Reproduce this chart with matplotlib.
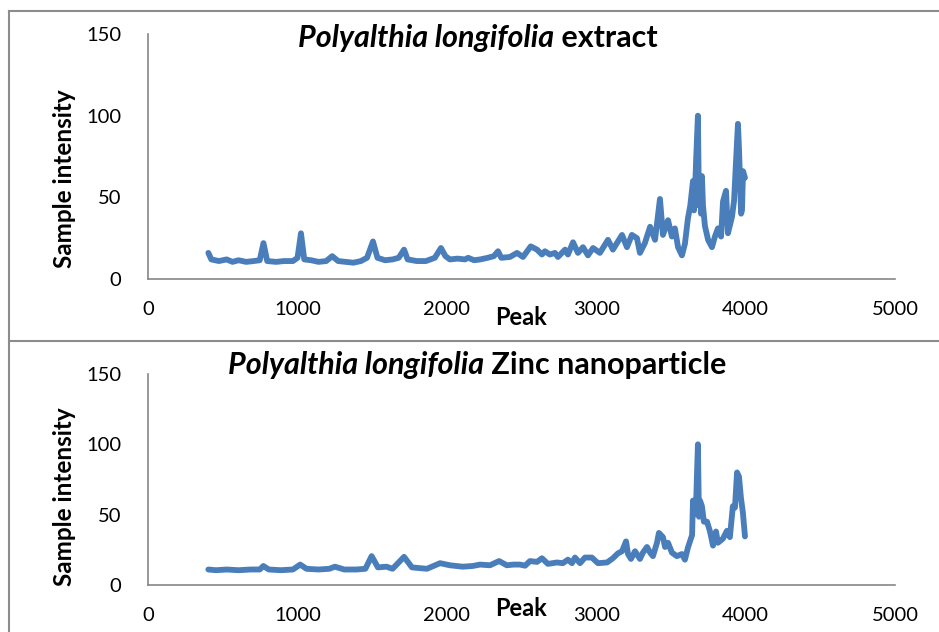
#!/usr/bin/env python3

import matplotlib
matplotlib.use('Agg')
import matplotlib.pyplot as plt
from matplotlib.lines import Line2D

plt.rcParams['font.family'] = ['Lato', 'DejaVu Sans']

# Peak positions and intensities
extract_x = [404, 424, 475, 526, 566, 606, 657, 707, 748, 773, 798, 859, 910, 970, 1001,
             1024, 1046, 1092, 1142, 1193, 1233, 1273, 1324, 1375, 1425, 1466, 1506, 1536,
             1587, 1637, 1678, 1714, 1738, 1799, 1860, 1920, 1961, 1991, 2021, 2072, 2122,
             2143, 2183, 2224, 2274, 2315, 2343, 2365, 2423, 2470, 2510, 2562, 2604, 2637,
             2657, 2690, 2724, 2744, 2792, 2811, 2845, 2878, 2912, 2945, 2979, 3025, 3079,
             3112, 3139, 3173, 3206, 3239, 3273, 3293, 3326, 3361, 3394, 3427, 3447, 3481,
             3507, 3527, 3548, 3574, 3594, 3614, 3630, 3648, 3655, 3662, 3670, 3681, 3688,
             3695, 3702, 3708, 3715, 3728, 3749, 3775, 3795, 3815, 3836, 3849, 3869, 3882,
             3909, 3923, 3935, 3949, 3956, 3963, 3970, 3976, 3983, 3996]
extract_y = [16, 12, 11, 12, 10.5, 11.5, 10.5, 11, 11.5, 22, 11, 10.5, 11, 11, 13,
             28, 12, 11.5, 10.5, 11, 14, 11, 10.5, 10, 11, 13, 23, 13,
             11.5, 12, 13, 18, 12, 11, 11, 13, 19, 14, 12, 12.5, 12,
             13, 11.5, 12, 13, 14, 17, 13, 13.5, 16, 13.5, 20, 18, 15,
             17, 15, 16, 13.5, 18, 15, 22.5, 16, 19.5, 14.5, 19, 16, 24,
             18, 22, 27, 19.5, 27, 25, 16, 22, 32, 24, 49, 27, 36,
             26, 31, 19.5, 14.5, 21.5, 37, 45, 60, 42, 55, 75, 100, 45,
             60, 40, 63, 45, 32.5, 24, 19.5, 26, 31, 26, 47.5, 54, 28,
             38, 48, 70, 95, 80, 60, 40, 42, 66, 62]

zinc_x = [404, 455, 526, 606, 687, 748, 772, 809, 889, 970, 1019, 1061, 1142, 1213,
          1251, 1314, 1395, 1455, 1497, 1539, 1597, 1637, 1714, 1767, 1867, 1955, 2021,
          2108, 2173, 2223, 2289, 2350, 2402, 2446, 2490, 2524, 2557, 2604, 2637, 2677,
          2738, 2777, 2811, 2838, 2858, 2892, 2925, 2971, 3012, 3073, 3112, 3146, 3173,
          3200, 3213, 3233, 3260, 3293, 3313, 3340, 3361, 3380, 3407, 3420, 3447, 3461,
          3481, 3507, 3540, 3574, 3594, 3614, 3642, 3648, 3655, 3668, 3681, 3688, 3695,
          3708, 3721, 3742, 3762, 3782, 3802, 3815, 3849, 3875, 3895, 3915, 3929, 3943,
          3956, 3969, 3982, 3996]
zinc_y = [11, 10.5, 11, 10.5, 11, 11, 13.5, 11, 10.5, 11, 14.5, 11.5, 11, 11.5,
          13, 11, 11, 11.5, 20.5, 12.5, 13, 11.5, 20, 12.5, 11.5, 15.5, 14,
          13, 13.5, 14.5, 14, 17, 14, 14.5, 14.5, 13.7, 17, 16.4, 19, 15,
          16, 15.5, 18, 15.5, 19.5, 15.5, 19.5, 19.5, 15.5, 16, 19, 22.5, 24,
          31, 22, 18.5, 24, 18.5, 23, 27, 23, 20.5, 30, 37, 34, 27,
          30, 23, 20.5, 22, 18, 26.5, 35.5, 60, 50, 55, 100, 48.5, 60,
          56, 45, 45, 38, 28, 38, 30, 33, 38.5, 34, 56, 55, 80,
          77, 62, 51.5, 34.5]

x_ticks = [0, 1000, 2000, 3000, 4000, 5000]
y_ticks = [0, 50, 100, 150]

titles = [('Polyalthia longifolia', ' extract'),
          ('Polyalthia longifolia', ' Zinc nanoparticle')]

line_color = '#4a7ebb'
axis_color = '#868686'

fig = plt.figure(figsize=(9.39, 6.32), dpi=100)

# axes rectangles in figure fractions (left, bottom, width, height)
rects = [(0.1576, 0.5585, 0.7955, 0.3877), (0.1576, 0.0744, 0.7955, 0.3339)]
series = [(extract_x, extract_y), (zinc_x, zinc_y)]
title_y = [0.940, 0.423]
title_x = [0.3174, 0.2428]
ylabel_y = [0.41, 0.42]
xlabel_y = [-0.11, -0.057]

for rect, (xs, ys), (it_txt, rest_txt), ty, tx, ly, lx in zip(
        rects, series, titles, title_y, title_x, ylabel_y, xlabel_y):
    ax = fig.add_axes(rect)
    ax.plot(xs, ys, color=line_color, lw=4.2, solid_joinstyle='round',
            solid_capstyle='round')
    ax.set_xlim(0, 5000)
    ax.set_ylim(0, 150)
    ax.set_xticks(x_ticks)
    ax.set_yticks(y_ticks)
    ax.tick_params(length=0, labelsize=14.5, colors='black')
    ax.tick_params(axis='y', pad=19)
    ax.tick_params(axis='x', pad=16)
    for side in ('top', 'right'):
        ax.spines[side].set_visible(False)
    for side in ('left', 'bottom'):
        ax.spines[side].set_color(axis_color)
        ax.spines[side].set_linewidth(1.2)
    ax.set_ylabel('Sample intensity', fontsize=17.5, fontweight='bold')
    ax.yaxis.set_label_coords(-0.097, ly)
    ax.set_xlabel('Peak', fontsize=17, fontweight='bold')
    ax.xaxis.set_label_coords(0.5, lx)
    # italic species name followed by the upright rest of the title
    t1 = fig.text(tx, ty, it_txt, ha='left', va='center', fontsize=22,
                  fontweight='bold', style='italic')
    ax.annotate(rest_txt, xy=(1, 0.5), xycoords=t1, ha='left', va='center',
                fontsize=22, fontweight='bold', annotation_clip=False)

# chart frames like the pasted Excel panels
frame_kw = dict(color='#8c8c8c', lw=1.5, transform=fig.transFigure)
fig.add_artist(Line2D([9 / 939, 9 / 939], [0, 1 - 11 / 632], **frame_kw))
fig.add_artist(Line2D([9 / 939, 1], [1 - 11 / 632, 1 - 11 / 632], **frame_kw))
fig.add_artist(Line2D([9 / 939, 1], [1 - 341 / 632, 1 - 341 / 632], **frame_kw))

fig.savefig('out.png', dpi=100)
